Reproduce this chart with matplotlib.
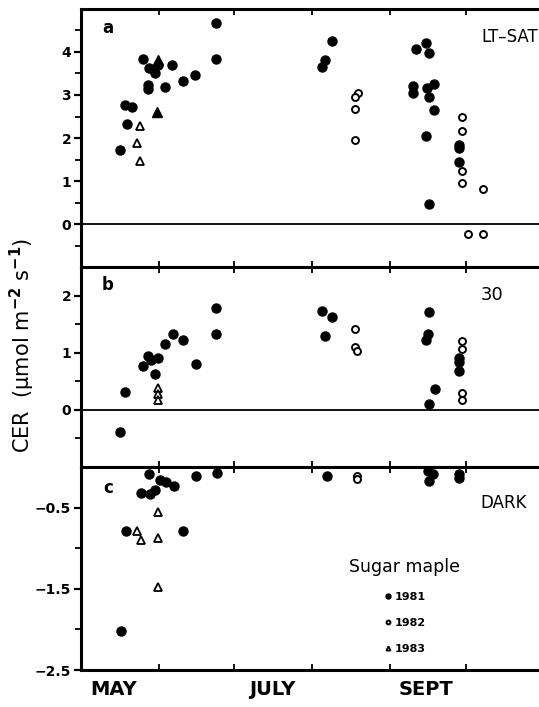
import numpy as np
import matplotlib
matplotlib.use("Agg")
import matplotlib.pyplot as plt
from matplotlib.ticker import MultipleLocator, FixedLocator, NullFormatter

plt.rcParams['font.family'] = ['DejaVu Sans']
plt.rcParams['font.weight'] = 'bold'

# x values are day of year
# panel a: light-saturated CER
a_1981_day = [136.5, 138.5, 141.5, 139.3, 145.5, 148.2, 150.4, 147.5, 147.5, 151.6,
              157.4, 154.3, 161.4, 166.5, 174.6, 174.6, 220.9, 217.8, 216.8,
              254.0, 258.2, 259.5, 253.1, 253.1, 258.4, 261.2, 259.2, 261.2, 258.2,
              259.5, 271.4, 271.4, 271.4]
a_1981_cer = [1.72, 2.77, 2.73, 2.33, 3.83, 3.63, 3.50, 3.23, 3.13, 3.70,
              3.70, 3.18, 3.33, 3.47, 4.67, 3.84, 4.26, 3.81, 3.66,
              4.06, 4.22, 3.97, 3.21, 3.05, 3.16, 3.26, 2.96, 2.65, 2.05,
              0.46, 1.84, 1.76, 1.45]
a_1982_day = [231.0, 230.0, 230.0, 230.0, 272.3, 272.3, 272.3, 272.3, 280.6, 274.7, 280.6]
a_1982_cer = [3.05, 2.95, 2.67, 1.95, 2.48, 2.16, 1.24, 0.95, 0.81, -0.23, -0.23]
a_1983_day = [144.4, 143.3, 144.4]
a_1983_cer = [2.28, 1.89, 1.47]
a_1983f_day = [151.7, 151.4]
a_1983f_cer = [3.81, 2.61]

# panel b: CER at 30
b_1981_day = [136.7, 138.6, 145.5, 147.7, 149.0, 151.7, 150.4, 154.6, 157.6, 161.5,
              166.8, 174.7, 174.7, 216.9, 220.9, 218.1, 259.5, 258.8, 258.2,
              261.5, 259.5, 271.4, 271.2, 271.4]
b_1981_cer = [-0.38, 0.32, 0.77, 0.95, 0.88, 0.91, 0.62, 1.15, 1.32, 1.22,
              0.80, 1.78, 1.32, 1.73, 1.62, 1.30, 1.72, 1.32, 1.23,
              0.36, 0.10, 0.91, 0.83, 0.68]
b_1982_day = [230.1, 230.1, 230.6, 272.4, 272.4, 272.4, 272.4]
b_1982_cer = [1.42, 1.10, 1.03, 1.20, 1.06, 0.29, 0.18]
b_1983_day = [151.7, 151.7, 151.7]
b_1983_cer = [0.38, 0.27, 0.17]

# panel c: dark respiration
c_1981_day = [148.1, 145.0, 148.4, 150.4, 152.3, 155.0, 157.9, 166.9, 175.1,
              138.9, 161.6, 136.9, 218.8, 258.8, 260.8, 259.5, 271.4, 271.4]
c_1981_cer = [-0.09, -0.32, -0.33, -0.28, -0.16, -0.19, -0.23, -0.11, -0.08,
              -0.79, -0.79, -2.02, -0.11, -0.05, -0.09, -0.17, -0.09, -0.14]
c_1982_day = [230.6, 230.6]
c_1982_cer = [-0.11, -0.15]
c_1983_day = [151.7, 143.5, 144.7, 151.7, 151.7]
c_1983_cer = [-0.55, -0.79, -0.90, -0.88, -1.48]

month_starts = [152, 182, 213, 244, 274]
month_mid = [134, 197, 258]
month_names = ['MAY', 'JULY', 'SEPT']

fig = plt.figure(figsize=(5.39, 7.07), dpi=100)
left, width = 0.150, 0.85
ax_a = fig.add_axes([left, 0.6223, width, 0.3650])
ax_b = fig.add_axes([left, 0.3395, width, 0.2828])
ax_c = fig.add_axes([left, 0.0523, width, 0.2872])

filled = dict(linestyle='none', marker='o', color='black', markersize=6.5)
hollow = dict(linestyle='none', marker='o', markerfacecolor='white',
              markeredgecolor='black', markeredgewidth=1.4, markersize=5)
tri = dict(linestyle='none', marker='^', markerfacecolor='white',
           markeredgecolor='black', markeredgewidth=1.3, markersize=5.5)
tri_f = dict(linestyle='none', marker='^', color='black', markersize=6.5)


def style_axes(ax, ylim, major, minor, labels):
    ax.set_xlim(121, 303)
    ax.set_ylim(*ylim)
    for side in ['left', 'top', 'bottom']:
        ax.spines[side].set_linewidth(2.2)
    ax.spines['right'].set_visible(False)
    ax.xaxis.set_major_locator(FixedLocator(month_starts))
    ax.xaxis.set_major_formatter(NullFormatter())
    ax.tick_params(axis='x', which='major', direction='in', top=True, bottom=True,
                   length=4, width=1.3)
    ax.yaxis.set_major_locator(FixedLocator(major))
    ax.yaxis.set_minor_locator(FixedLocator(minor))
    ax.set_yticklabels(labels)
    ax.tick_params(axis='y', which='major', direction='out', length=5, width=1.6,
                   labelsize=10, pad=2)
    ax.tick_params(axis='y', which='minor', direction='out', length=4, width=1.3)


ax_a.plot(a_1981_day, a_1981_cer, **filled)
ax_a.plot(a_1982_day, a_1982_cer, **hollow)
ax_a.plot(a_1983_day, a_1983_cer, **tri)
ax_a.plot(a_1983f_day, a_1983f_cer, **tri_f)
ax_a.axhline(0, color='black', linewidth=1.3)
style_axes(ax_a, (-1, 5), [0, 1, 2, 3, 4], [-0.5, 0.5, 1.5, 2.5, 3.5, 4.5],
           ['0', '1', '2', '3', '4'])
ax_a.text(0.059, 0.925, 'a', transform=ax_a.transAxes, ha='center', va='center', fontsize=12)
ax_a.text(0.997, 0.891, 'LT\u2013SAT', transform=ax_a.transAxes, ha='right', va='center',
          fontsize=12, fontweight='normal')

ax_b.plot(b_1981_day, b_1981_cer, **filled)
ax_b.plot(b_1982_day, b_1982_cer, **hollow)
ax_b.plot(b_1983_day, b_1983_cer, **tri)
ax_b.axhline(0, color='black', linewidth=1.3)
style_axes(ax_b, (-1, 2.5), [0, 1, 2], [-0.5, 0.5, 1.5], ['0', '1', '2'])
ax_b.text(0.059, 0.91, 'b', transform=ax_b.transAxes, ha='center', va='center', fontsize=12)
ax_b.text(0.897, 0.86, '30', transform=ax_b.transAxes, ha='center', va='center',
          fontsize=13, fontweight='normal')

h81, = ax_c.plot(c_1981_day, c_1981_cer, label='1981', **filled)
h82, = ax_c.plot(c_1982_day, c_1982_cer, label='1982', **hollow)
h83, = ax_c.plot(c_1983_day, c_1983_cer, label='1983', **tri)
style_axes(ax_c, (-2.5, 0), [-0.5, -1.5, -2.5], [-1, -2], ['\u22120.5', '\u22121.5', '\u22122.5'])
ax_c.text(0.059, 0.897, 'c', transform=ax_c.transAxes, ha='center', va='center', fontsize=12)
ax_c.text(0.974, 0.823, 'DARK', transform=ax_c.transAxes, ha='right', va='center',
          fontsize=12, fontweight='normal')

leg = ax_c.legend(handles=[h81, h82, h83], title='Sugar maple', loc='upper center',
                  bbox_to_anchor=(0.707, 0.58), frameon=False, markerscale=0.55,
                  handlelength=0.6, handletextpad=0.3, labelspacing=1.45,
                  fontsize=8, title_fontsize=12.5, borderpad=0)
leg.get_title().set_fontweight('normal')

# month names under the bottom axis
ax_c.set_xticks(month_mid, minor=True)
ax_c.set_xticklabels(month_names, minor=True)
ax_c.tick_params(axis='x', which='minor', length=0, labelsize=14, pad=7)

fig.text(0.041, 0.512, 'CER  (\u03bcmol m$^{-2}$ s$^{-1}$)', rotation=90,
         ha='center', va='center', fontsize=15, fontweight='normal')

fig.savefig('out.png', dpi=100, facecolor='white')
